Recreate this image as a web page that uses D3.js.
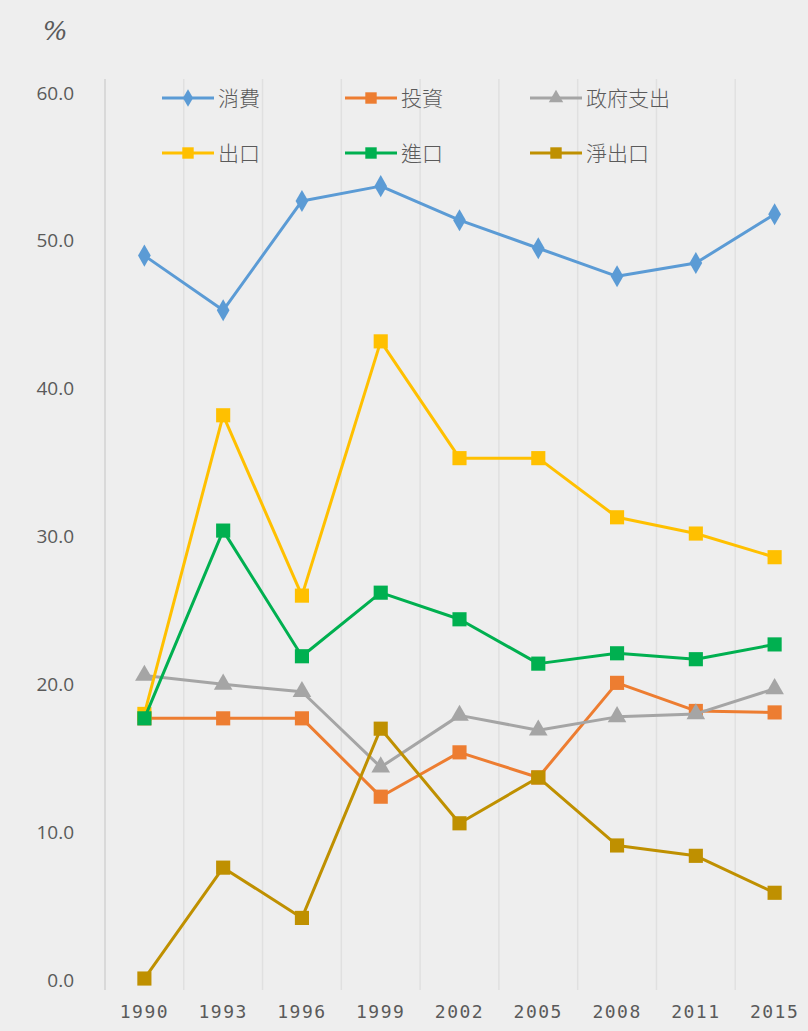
<!DOCTYPE html>
<html>
<head>
<meta charset="utf-8">
<script src="https://cdn.jsdelivr.net/npm/d3@7"></script>
<style>
  html, body { margin: 0; padding: 0; background: #eeeeee; }
  svg { display: block; }
  text { fill: #5a5a5a; }
</style>
</head>
<body>
<div id="chart"></div>
<script>
// data
const years = ["1990", "1993", "1996", "1999", "2002", "2005", "2008", "2011", "2015"]
const consumption = [49.0, 45.3, 52.7, 53.7, 51.4, 49.5, 47.6, 48.5, 51.8]
const investment  = [17.7, 17.7, 17.7, 12.4, 15.4, 13.7, 20.1, 18.2, 18.1]
const government  = [20.6, 20.0, 19.5, 14.4, 17.9, 16.9, 17.8, 18.0, 19.7]
const exports_    = [18.0, 38.2, 26.0, 43.2, 35.3, 35.3, 31.3, 30.2, 28.6]
const imports_    = [17.7, 30.4, 21.9, 26.2, 24.4, 21.4, 22.1, 21.7, 22.7]
const netExports  = [0.1, 7.6, 4.2, 17.0, 10.6, 13.7, 9.1, 8.4, 5.9]
const yTicks = [0, 10, 20, 30, 40, 50, 60]

const series = [
    {name: "消費",     values: consumption, color: "#5b9bd5", shape: "diamond"},
    {name: "投資",     values: investment,  color: "#ed7d31", shape: "square"},
    {name: "政府支出", values: government,  color: "#a5a5a5", shape: "triangle"},
    {name: "出口",     values: exports_,    color: "#ffc000", shape: "square"},
    {name: "進口",     values: imports_,    color: "#00b050", shape: "square"},
    {name: "淨出口",   values: netExports,  color: "#bf9000", shape: "square"}
]

const width = 808
const height = 1031

const svg = d3.select("#chart")
    .append("svg")
    .attr("width", width)
    .attr("height", height)
    .attr("viewBox", [0, 0, width, height])

const layer_bg = svg.append("g")
const layer_grid = svg.append("g")
const layer_lines = svg.append("g")
const layer_axis = svg.append("g")
const layer_legend = svg.append("g")

const x = d3.scalePoint().domain(years).range([105, 814]).padding(0.5)
const y = d3.scaleLinear().domain([0, 60]).range([980, 93])

const symbolFor = {
    diamond: d3.symbol().type(d3.symbolDiamond).size(140),
    square: d3.symbol().type(d3.symbolSquare).size(200),
    triangle: d3.symbol().type(d3.symbolTriangle).size(150)
}

layer_bg.append("rect")
    .attr("width", width)
    .attr("height", height)
    .attr("fill", "#eeeeee")

// vertical category separators
const step = x.step()
layer_grid.selectAll("line")
    .data(d3.range(years.length))
    .enter()
    .append("line")
    .attr("x1", i => x(years[i]) - step / 2)
    .attr("x2", i => x(years[i]) - step / 2)
    .attr("y1", y(60) - 14)
    .attr("y2", y(0) + 10)
    .attr("stroke", (d, i) => i === 0 ? "#d2d2d2" : "#e0e0e0")
    .attr("stroke-width", 1.5)

// y tick labels
layer_axis.selectAll("text.ytick")
    .data(yTicks)
    .enter()
    .append("text")
    .attr("class", "ytick")
    .attr("x", 74)
    .attr("y", d => y(d))
    .attr("dy", "0.35em")
    .attr("text-anchor", "end")
    .style("font-family", "'Open Sans', 'DejaVu Sans', sans-serif")
    .style("font-size", "19px")
    .text(d => d3.format(".1f")(d))

// x tick labels
layer_axis.selectAll("text.xtick")
    .data(years)
    .enter()
    .append("text")
    .attr("class", "xtick")
    .attr("x", d => x(d))
    .attr("y", 1018)
    .attr("text-anchor", "middle")
    .style("font-family", "'DejaVu Sans Mono', monospace")
    .style("font-size", "18px")
    .style("letter-spacing", "1.5px")
    .text(d => d)

layer_axis.append("text")
    .attr("x", 55)
    .attr("y", 40)
    .attr("text-anchor", "middle")
    .style("font-family", "'DejaVu Serif', serif")
    .style("font-style", "italic")
    .style("font-size", "26px")
    .text("%")

const line = d3.line()
    .x((d, i) => x(years[i]))
    .y(d => y(d))

series.forEach(s => {
    const g = layer_lines.append("g")
    g.append("path")
        .attr("d", line(s.values))
        .attr("fill", "none")
        .attr("stroke", s.color)
        .attr("stroke-width", 3)
        .attr("stroke-linejoin", "round")
    g.selectAll("path.mark")
        .data(s.values)
        .enter()
        .append("path")
        .attr("class", "mark")
        .attr("transform", (d, i) => `translate(${x(years[i])},${y(d)})`)
        .attr("d", symbolFor[s.shape])
        .attr("fill", s.color)
})

// legend, two rows of three
const legendX = [162, 345, 530]
const legendY = [98, 153]
const legendSymbol = {
    diamond: d3.symbol().type(d3.symbolDiamond).size(90),
    square: d3.symbol().type(d3.symbolSquare).size(130),
    triangle: d3.symbol().type(d3.symbolTriangle).size(90)
}
series.forEach((s, i) => {
    const lx = legendX[i % 3]
    const ly = legendY[Math.floor(i / 3)]
    const g = layer_legend.append("g").attr("transform", `translate(${lx},${ly})`)
    g.append("line")
        .attr("x1", 0).attr("x2", 52)
        .attr("stroke", s.color)
        .attr("stroke-width", 3)
    g.append("path")
        .attr("transform", "translate(26,0)")
        .attr("d", legendSymbol[s.shape])
        .attr("fill", s.color)
    g.append("text")
        .attr("x", 56)
        .attr("dy", "0.36em")
        .style("font-family", "'Noto Sans CJK TC', sans-serif")
        .style("font-size", "21px")
        .style("font-weight", "300")
        .text(s.name)
})
</script>
</body>
</html>
